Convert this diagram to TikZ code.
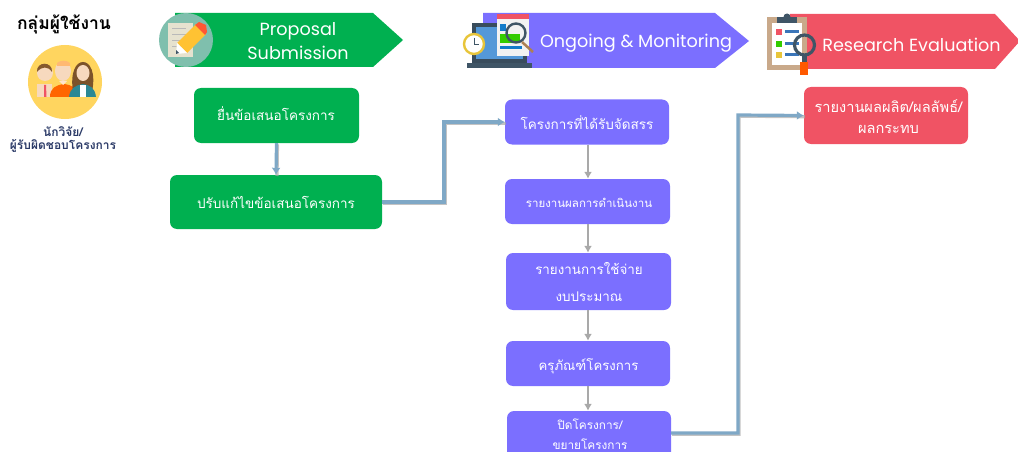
\documentclass[tikz,border=0pt]{standalone}
\usepackage{fontspec}
\setmainfont{Loma}[Script=Thai]
\newfontfamily\latinfont{Poppins}
\usetikzlibrary{arrows.meta,calc}
\definecolor{gr}{HTML}{00B050}
\definecolor{pu}{HTML}{7B6FFF}
\definecolor{re}{HTML}{F05364}
\definecolor{lnk}{HTML}{7FA8C6}
\definecolor{shd}{HTML}{A9A9A9}
\definecolor{nav}{HTML}{2B3A67}
\definecolor{dk}{HTML}{3F5566}
\definecolor{sun}{HTML}{FFD55F}
\definecolor{mint}{HTML}{7FBFAD}
\definecolor{skin}{HTML}{F7D9BE}
\definecolor{tan}{HTML}{C9A98A}
\definecolor{paper}{HTML}{E6E2CF}
\definecolor{clockc}{HTML}{E8C53A}
\tikzset{
  x=1pt,y=-1pt,
  box/.style={rounded corners=7pt,inner sep=0pt,align=center,minimum height=#1},
  box/.default=45pt,
  boxtxt/.style={inner sep=0pt,align=center,text=white},
  blab/.style={text=white,align=center,inner sep=0pt,font=\latinfont\fontsize{17.6}{24}\selectfont},
  blink/.style={draw=lnk,line width=3.2pt,-{Latex[length=7pt,width=9pt]}},
  bshadow/.style={draw=shd,line width=3.2pt,opacity=.7,transform canvas={xshift=1pt,yshift=-1.2pt}},
  glink/.style={draw=shd,line width=2.2pt,-{Latex[length=7pt,width=8pt]}}
}
\begin{document}
\begin{tikzpicture}
\useasboundingbox (0,0) rectangle (1018,452);
\clip (0,0) rectangle (1018,452);
% banners
\fill[gr] (175,13)--(373,13)--(403,40)--(373,67)--(175,67)--cycle;
\fill[pu] (483,13)--(715,13)--(749,41)--(715,68)--(483,68)--cycle;
\fill[re] (790,14)--(995,14)--(1020,41)--(995,69)--(790,69)--cycle;
\node[blab] (b1) at (298,41) {Proposal\\Submission};
\node[blab] (b2) at (636,43) {Ongoing \& Monitoring};
\node[blab] (b3) at (911.5,45) {Research Evaluation};
% users
\node[inner sep=0pt,font=\bfseries\fontsize{17.5}{20}\selectfont] (ut) at (64,24) {กลุ่มผู้ใช้งาน};
\node[inner sep=0pt,align=center,text=nav,font=\bfseries\fontsize{12}{13}\selectfont] (ul) at (63,140) {นักวิจัย/\\ผู้รับผิดชอบโครงการ};
\fill[sun] (65,82) circle (37);
% people
\fill[skin] (37,97) rectangle (52,84);
\fill[re] (44,85)--(46,85)--(46.5,97)--(44,97)--cycle;
\fill[orange!80!red] (50,97) .. controls (50,88) and (56,85) .. (64,84) .. controls (72,85) and (78,88) .. (78,97) -- cycle;
\fill[skin] (45,73) circle (8);
\fill[brown!70!black] (37,72) .. controls (36,61) and (53,61) .. (52,72) .. controls (48,66) and (42,66) .. (37,72) -- cycle;
\fill[skin] (63,71) ellipse (8 and 10);
\fill[orange!55!white] (57,63) .. controls (60,60) and (67,60) .. (70,63) -- (70,66) -- (57,66) -- cycle;
\fill[white!80!orange] (59,81)--(67,81)--(63,85)--cycle;
\fill[brown!65!black] (73,92) .. controls (70,72) and (76,62) .. (83,62) .. controls (90,62) and (96,72) .. (92,92) -- cycle;
\fill[skin] (83,73) ellipse (6.5 and 8);
\fill[dk!70!cyan] (69,97) .. controls (70,88) and (76,85) .. (83,84) .. controls (90,85) and (95,88) .. (96,97) -- cycle;
\fill[white] (80,85) rectangle (86,97);
% pencil icon
\fill[mint] (186,40) circle (27);
\fill[paper] (168,23) rectangle (193,57);
\foreach \yy in {29,35,41,47}{\draw[gray!55,line width=1pt] (172,\yy) -- (186,\yy);}
\fill[orange!60!yellow!80!white] (177,43)--(196,24)--(206,34)--(187,53)--cycle;
\fill[red!65!orange!80!white] (195,25)--(199,22)--(206,25)--(207,32)--(205,35)--cycle;
\fill[white] (177,43)--(187,53)--(176,54)--cycle;
\fill[dk] (176,50)--(179,53)--(176,54)--cycle;
% laptop icon
\fill[dk!90!black] (472,23) rectangle (527,63);
\fill[cyan!60!blue!70!white] (476,27) rectangle (523,59);
\fill[dk] (467,63) rectangle (532,68);
\fill[white!90!gray] (497,14) rectangle (529,56);
\fill[re] (497,14) rectangle (529,19);
\fill[cyan!60!blue] (500,24) rectangle (506,31);
\fill[green!60!olive] (500,34) rectangle (520,43);
\fill[cyan!60!blue] (500,46) rectangle (522,49);
\draw[dk,line width=2.4pt] (516,33) circle (9.5);
\draw[orange!35!gray,line width=2.5pt] (522,42) -- (533,52);
\fill[white] (474,44) circle (10);
\draw[clockc,line width=2.4pt] (474,44) circle (10);
\draw[dk,line width=.8pt] (474,38) -- (474,44) -- (479,44);
% clipboard icon
\fill[tan] (767,17) rectangle (807,70);
\fill[white] (772,23) rectangle (802,65);
\fill[dk] (777,17) rectangle (797,23);
\fill[dk] (787,17) circle (3.5);
\fill[re] (776,29) rectangle (782,35);
\fill[green!60!olive] (776,41) rectangle (782,47);
\fill[clockc] (776,52) rectangle (782,58);
\foreach \yy in {32,44,55}{\fill[cyan!50!blue!80!gray] (785,\yy-1.5) rectangle (799,\yy+1.5);}
\draw[dk,line width=3.2pt] (804.5,45) circle (10);
\fill[dk] (802,56) rectangle (807,62);
\fill[orange!70!red] (800,62) rectangle (808,75);
% boxes
\node[box=55pt,fill=gr,minimum width=165pt] (g1) at (276.5,115.5) {};
\node[box=54pt,fill=gr,minimum width=212pt] (g2) at (276,202) {};
\node[box,fill=pu,minimum width=164pt] (p1) at (587,122) {};
\node[box,fill=pu,minimum width=165pt] (p2) at (587.5,201.5) {};
\node[box=57pt,fill=pu,minimum width=165pt] (p3) at (588.5,281.5) {};
\node[box,fill=pu,minimum width=164pt] (p4) at (588,363.5) {};
\node[box=65pt,fill=pu,minimum width=164pt] (p5) at (589,443.5) {};
\node[box=57pt,fill=re,minimum width=164pt] (r1) at (886,115.5) {};
% box texts
\node[boxtxt,font=\fontsize{13.5}{20}\selectfont] (tg1) at (276,114) {ยื่นข้อเสนอโครงการ};
\node[boxtxt,font=\fontsize{13.5}{20}\selectfont] (tg2) at (276,202) {ปรับแก้ไขข้อเสนอโครงการ};
\node[boxtxt,font=\fontsize{13.5}{20}\selectfont] (tp1) at (587,123) {โครงการที่ได้รับจัดสรร};
\node[boxtxt,font=\fontsize{11.5}{14}\selectfont] (tp2) at (589,203) {รายงานผลการดำเนินงาน};
\node[boxtxt,font=\fontsize{13.4}{27}\selectfont] (tp3) at (589,282) {รายงานการใช้จ่าย\\งบประมาณ};
\node[boxtxt,font=\fontsize{13.2}{20}\selectfont] (tp4) at (588.5,366) {ครุภัณฑ์โครงการ};
\node[boxtxt,font=\fontsize{11.8}{20}\selectfont] (tp5) at (590,434) {ปิดโครงการ/\\ขยายโครงการ};
\node[boxtxt,font=\fontsize{14.6}{21}\selectfont] (tr1) at (888.5,117) {รายงานผลผลิต/ผลลัพธ์/\\ผลกระทบ};
% connectors
\coordinate (ax) at (588,0);
\coordinate (j1) at (444,122);
\coordinate (j2) at (738,115);
\coordinate (s5) at (671,433);
\draw[bshadow] (g1.south) -- (g2.north);
\draw[blink] (g1.south) -- (g2.north);
\draw[bshadow] (g2.east) -| (j1) -- (p1.west);
\draw[blink] (g2.east) -| (j1) -- (p1.west);
\draw[bshadow] (s5) -| (j2) -- (r1.west);
\draw[blink] (s5) -| (j2) -- (r1.west);
\draw[glink] (ax |- p1.south) -- (ax |- p2.north);
\draw[glink] (ax |- p2.south) -- (ax |- p3.north);
\draw[glink] (ax |- p3.south) -- (ax |- p4.north);
\draw[glink] (ax |- p4.south) -- (ax |- p5.north);
\end{tikzpicture}
\end{document}
